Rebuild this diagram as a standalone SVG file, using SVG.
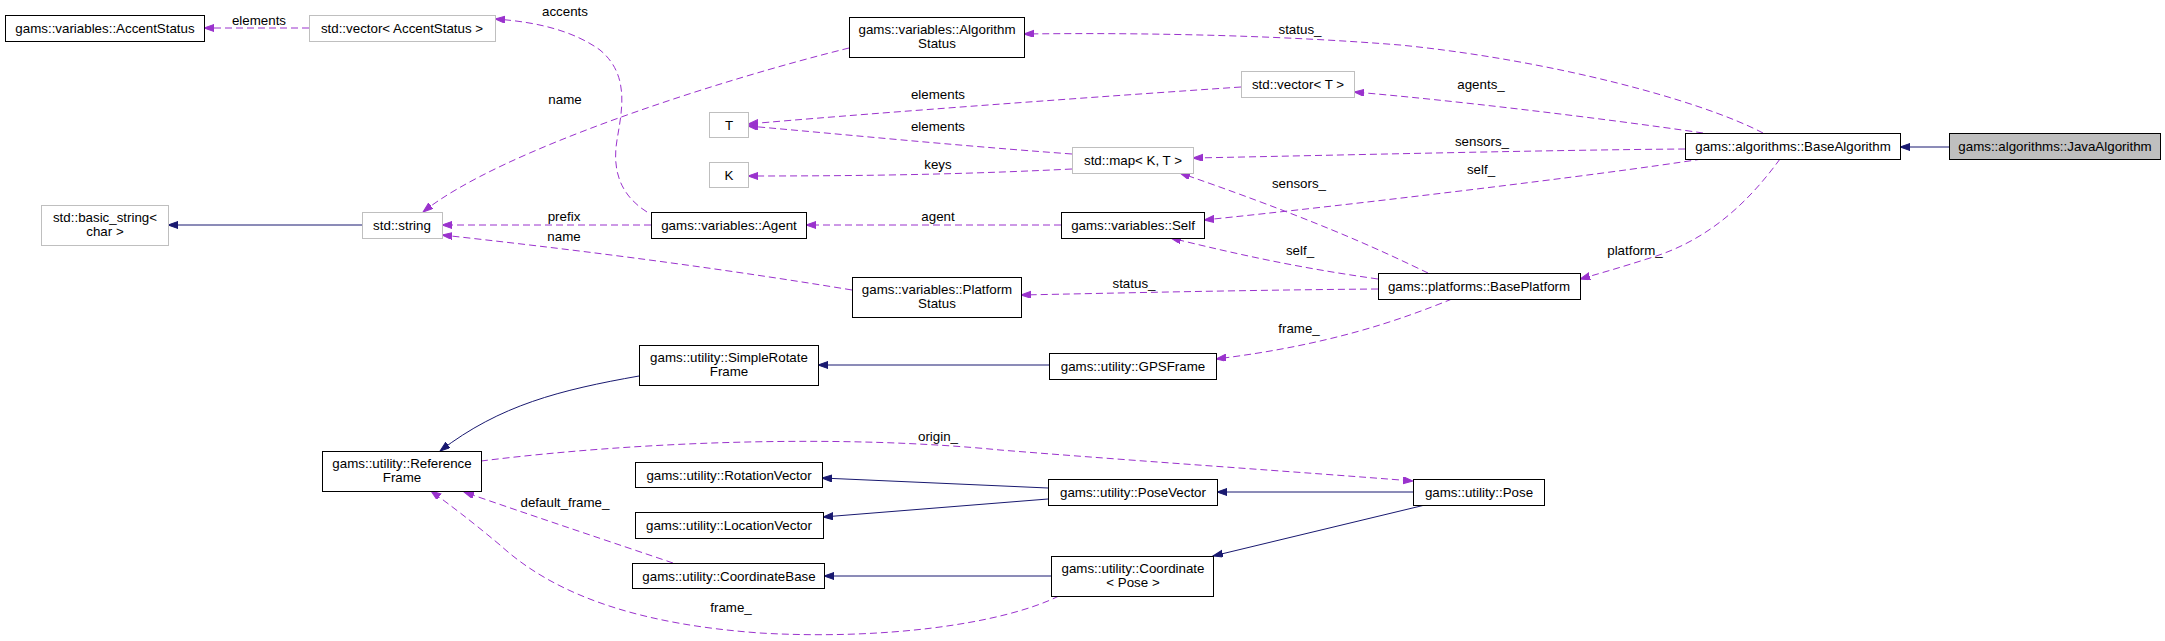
<svg xmlns="http://www.w3.org/2000/svg" width="2165" height="641" viewBox="0 0 2165 641">
<style>
text{font-family:"Liberation Sans",Arial,sans-serif;font-size:13.33px;fill:#000}
.n rect{fill:#fff;stroke:#000;stroke-width:1}
.g rect{fill:#fff;stroke:#bfbfbf;stroke-width:1}
.cur rect{fill:#bfbfbf;stroke:#000;stroke-width:1}
.n text,.g text,.cur text,.lbl{text-anchor:middle}
.d{fill:none;stroke:#9a32cd;stroke-width:1;stroke-dasharray:7,4;marker-end:url(#ap)}
.s{fill:none;stroke:#191970;stroke-width:1;marker-end:url(#an)}
</style>
<defs>
<marker id="ap" markerUnits="userSpaceOnUse" markerWidth="11" markerHeight="8" refX="10" refY="3.5" orient="auto"><path d="M0,0 L10,3.5 L0,7 z" fill="#9a32cd" stroke="#9a32cd"/></marker>
<marker id="an" markerUnits="userSpaceOnUse" markerWidth="11" markerHeight="8" refX="10" refY="3.5" orient="auto"><path d="M0,0 L10,3.5 L0,7 z" fill="#191970" stroke="#191970"/></marker>
</defs>
<rect width="2165" height="641" fill="#fff"/>
<g id="edges">
<path class="d" d="M309,28 L204,28"/>
<path class="d" d="M647,212 C620,195 612,170 617,140 C622,110 630,75 600,50 C575,32 540,22 495,19"/>
<path class="d" d="M849,48 C720,80 500,150 423,212"/>
<path class="s" d="M362,225 L168,225"/>
<path class="d" d="M651,225 L442,225"/>
<path class="d" d="M852,290 C700,265 560,248 442,235"/>
<path class="d" d="M1241,87 C1050,100 850,115 748,124"/>
<path class="d" d="M1072,154 C950,145 850,135 748,126"/>
<path class="d" d="M1072,169 C950,175 850,176 748,176"/>
<path class="d" d="M1061,225 L806,225"/>
<path class="d" d="M1763,133 C1700,100 1550,60 1400,45 C1250,33 1100,33 1024,34"/>
<path class="d" d="M1703,133 C1600,118 1450,100 1354,92"/>
<path class="d" d="M1685,149 C1550,150 1350,155 1193,158"/>
<path class="d" d="M1702,159 C1600,175 1350,205 1204,220"/>
<path class="d" d="M1428,273 C1390,255 1330,225 1180,173"/>
<path class="d" d="M1378,279 C1300,268 1240,255 1171,238"/>
<path class="d" d="M1378,289 C1250,290 1120,293 1021,295"/>
<path class="d" d="M1452,299 C1400,320 1330,345 1216,359"/>
<path class="d" d="M1780,159 C1750,200 1710,240 1650,258 C1625,266 1605,272 1580,279"/>
<path class="s" d="M1949,147 L1900,147"/>
<path class="s" d="M1049,365 L818,365"/>
<path class="s" d="M639,376 C560,390 500,405 440,451"/>
<path class="d" d="M481,461 C650,440 850,435 1000,450 C1150,462 1300,472 1413,481"/>
<path class="s" d="M1048,488 L822,478"/>
<path class="s" d="M1048,499 L823,517"/>
<path class="s" d="M1413,492 L1217,492"/>
<path class="s" d="M1425,505 L1213,556"/>
<path class="s" d="M1051,576 L824,576"/>
<path class="d" d="M673,563 C620,545 530,515 464,492"/>
<path class="d" d="M1059,596 C1000,625 880,640 760,633 C650,625 560,600 500,545 C470,520 450,505 431,491"/>
<text class="lbl" x="259" y="25">elements</text>
<text class="lbl" x="565" y="16">accents</text>
<text class="lbl" x="565" y="104">name</text>
<text class="lbl" x="564" y="221">prefix</text>
<text class="lbl" x="564" y="241">name</text>
<text class="lbl" x="938" y="99">elements</text>
<text class="lbl" x="938" y="131">elements</text>
<text class="lbl" x="938" y="169">keys</text>
<text class="lbl" x="938" y="221">agent</text>
<text class="lbl" x="1300" y="34">status_</text>
<text class="lbl" x="1481" y="89">agents_</text>
<text class="lbl" x="1482" y="146">sensors_</text>
<text class="lbl" x="1481" y="174">self_</text>
<text class="lbl" x="1299" y="188">sensors_</text>
<text class="lbl" x="1300" y="255">self_</text>
<text class="lbl" x="1134" y="288">status_</text>
<text class="lbl" x="1299" y="333">frame_</text>
<text class="lbl" x="1635" y="255">platform_</text>
<text class="lbl" x="938" y="441">origin_</text>
<text class="lbl" x="565" y="507">default_frame_</text>
<text class="lbl" x="731" y="612">frame_</text>
</g>
<g id="AccentStatus" class="n"><rect x="5.5" y="15.5" width="199" height="26"/><text x="105" y="33">gams::variables::AccentStatus</text></g>
<g id="VectorAccentStatus" class="g"><rect x="309.5" y="15.5" width="186" height="26"/><text x="402" y="33">std::vector&lt; AccentStatus &gt;</text></g>
<g id="AlgorithmStatus" class="n"><rect x="849.5" y="17.5" width="175" height="40"/><text x="937" y="34">gams::variables::Algorithm</text><text x="937" y="48">Status</text></g>
<g id="BasicString" class="g"><rect x="41.5" y="205.5" width="127" height="40"/><text x="105" y="222">std::basic_string&lt;</text><text x="105" y="236">char &gt;</text></g>
<g id="String" class="g"><rect x="362.5" y="212.5" width="80" height="26"/><text x="402" y="230">std::string</text></g>
<g id="T" class="g"><rect x="709.5" y="112.5" width="39" height="25"/><text x="729" y="130">T</text></g>
<g id="K" class="g"><rect x="709.5" y="162.5" width="39" height="25"/><text x="729" y="180">K</text></g>
<g id="VectorT" class="g"><rect x="1241.5" y="71.5" width="113" height="26"/><text x="1298" y="89">std::vector&lt; T &gt;</text></g>
<g id="MapKT" class="g"><rect x="1072.5" y="147.5" width="121" height="26"/><text x="1133" y="165">std::map&lt; K, T &gt;</text></g>
<g id="Agent" class="n"><rect x="651.5" y="212.5" width="155" height="26"/><text x="729" y="230">gams::variables::Agent</text></g>
<g id="Self" class="n"><rect x="1061.5" y="212.5" width="143" height="26"/><text x="1133" y="230">gams::variables::Self</text></g>
<g id="BaseAlgorithm" class="n"><rect x="1685.5" y="133.5" width="215" height="26"/><text x="1793" y="151">gams::algorithms::BaseAlgorithm</text></g>
<g id="JavaAlgorithm" class="cur"><rect x="1949.5" y="133.5" width="211" height="26"/><text x="2055" y="151">gams::algorithms::JavaAlgorithm</text></g>
<g id="PlatformStatus" class="n"><rect x="852.5" y="277.5" width="169" height="40"/><text x="937" y="294">gams::variables::Platform</text><text x="937" y="308">Status</text></g>
<g id="BasePlatform" class="n"><rect x="1378.5" y="273.5" width="202" height="26"/><text x="1479" y="291">gams::platforms::BasePlatform</text></g>
<g id="SimpleRotateFrame" class="n"><rect x="639.5" y="345.5" width="179" height="40"/><text x="729" y="362">gams::utility::SimpleRotate</text><text x="729" y="376">Frame</text></g>
<g id="GPSFrame" class="n"><rect x="1049.5" y="353.5" width="167" height="26"/><text x="1133" y="371">gams::utility::GPSFrame</text></g>
<g id="ReferenceFrame" class="n"><rect x="322.5" y="451.5" width="159" height="40"/><text x="402" y="468">gams::utility::Reference</text><text x="402" y="482">Frame</text></g>
<g id="RotationVector" class="n"><rect x="635.5" y="462.5" width="187" height="25"/><text x="729" y="480">gams::utility::RotationVector</text></g>
<g id="LocationVector" class="n"><rect x="635.5" y="512.5" width="188" height="26"/><text x="729" y="530">gams::utility::LocationVector</text></g>
<g id="CoordinateBase" class="n"><rect x="632.5" y="563.5" width="192" height="25"/><text x="729" y="581">gams::utility::CoordinateBase</text></g>
<g id="PoseVector" class="n"><rect x="1048.5" y="479.5" width="169" height="26"/><text x="1133" y="497">gams::utility::PoseVector</text></g>
<g id="Pose" class="n"><rect x="1413.5" y="479.5" width="131" height="26"/><text x="1479" y="497">gams::utility::Pose</text></g>
<g id="CoordinatePose" class="n"><rect x="1051.5" y="556.5" width="162" height="40"/><text x="1133" y="573">gams::utility::Coordinate</text><text x="1133" y="587">&lt; Pose &gt;</text></g>
</svg>
